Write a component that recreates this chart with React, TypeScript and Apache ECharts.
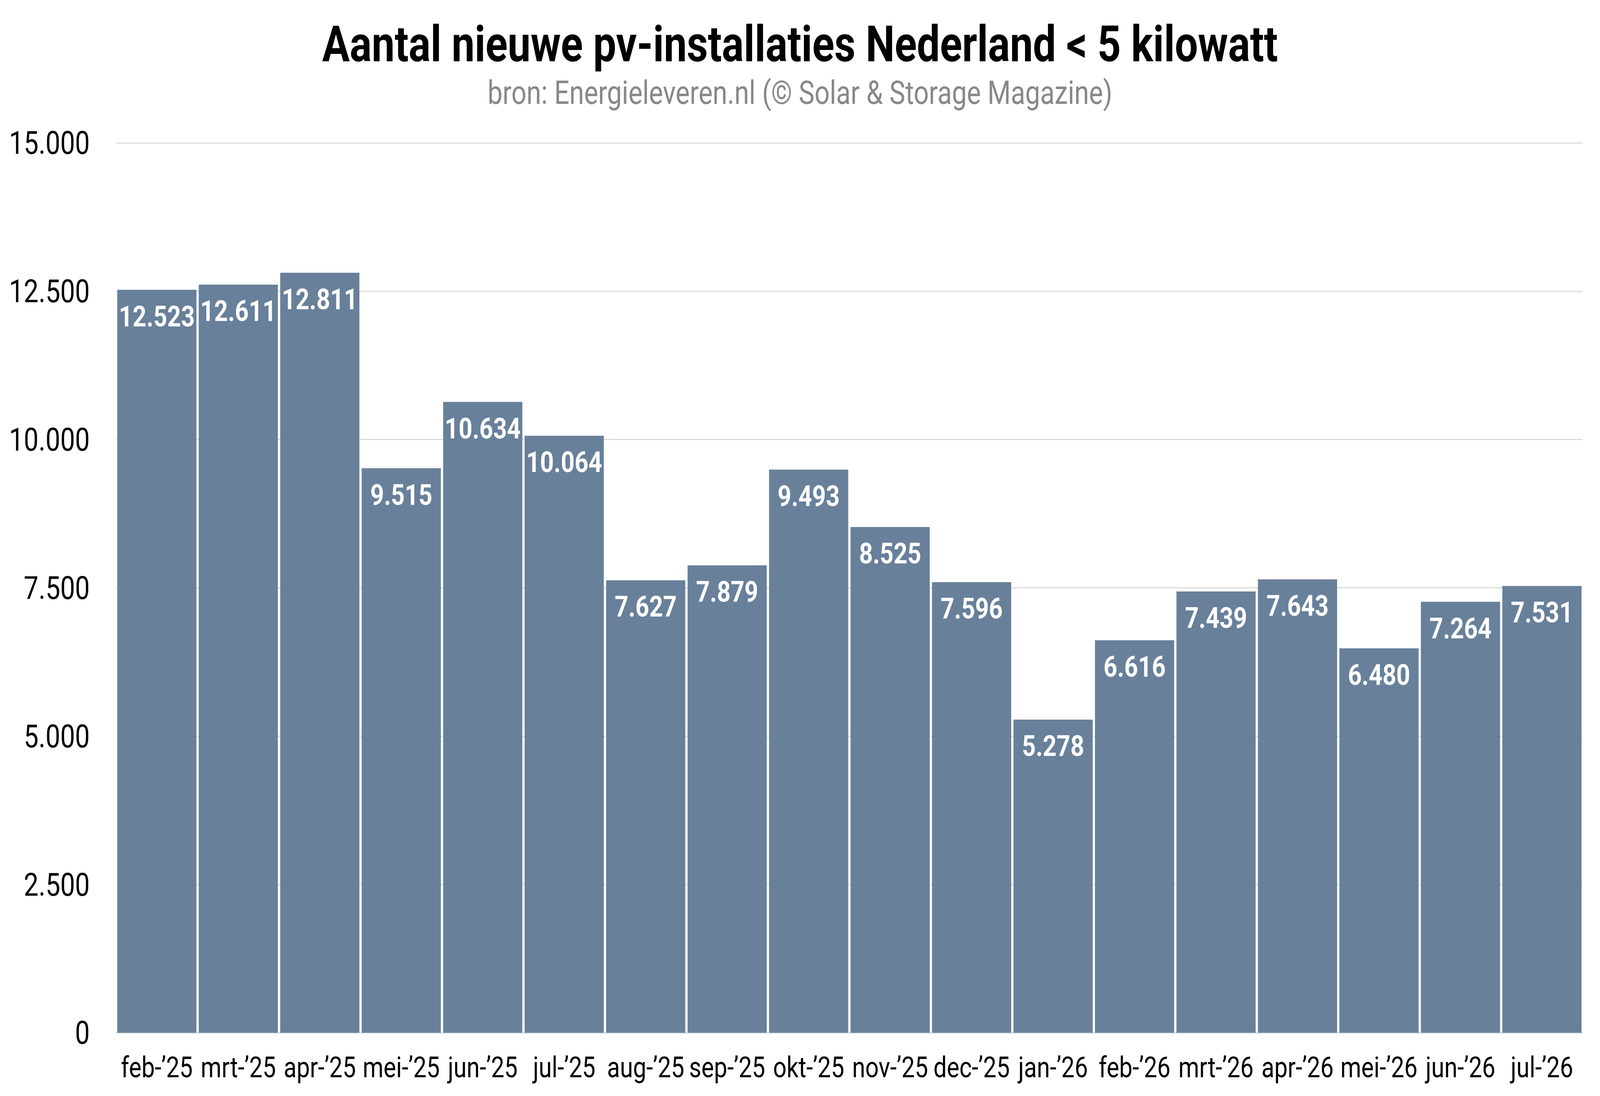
import React, { useEffect, useRef, useState } from "react";
import * as echarts from "echarts";

const TITLE = "Aantal nieuwe pv-installaties Nederland < 5 kilowatt";
const SUBTITLE = "bron: Energieleveren.nl (© Solar & Storage Magazine)";

const categories = [
  "feb-’25", "mrt-’25", "apr-’25", "mei-’25", "jun-’25", "jul-’25",
  "aug-’25", "sep-’25", "okt-’25", "nov-’25", "dec-’25", "jan-’26",
  "feb-’26", "mrt-’26", "apr-’26", "mei-’26", "jun-’26", "jul-’26",
];

const values = [
  12523, 12611, 12811, 9515, 10634, 10064,
  7627, 7879, 9493, 8525, 7596, 5278,
  6616, 7439, 7643, 6480, 7264, 7531,
];

const yMin = 0;
const yMax = 15000;
const yInterval = 2500;

const W = 4989;
const H = 2807;

const fmt = (v: number) =>
  String(Math.round(v)).replace(/\B(?=(\d{3})+(?!\d))/g, ".");

const FONT = "Roboto";

export default function App() {
  const ref = useRef<HTMLDivElement>(null);
  const [sx] = useState(() =>
    typeof window !== "undefined" ? Math.min(1, window.innerWidth / W) : 1
  );
  const [sy] = useState(() =>
    typeof window !== "undefined" ? Math.min(1, window.innerHeight / H) : 1
  );

  useEffect(() => {
    if (!ref.current) return;
    document.body.style.margin = "0";
    const chart = echarts.init(ref.current, undefined, {
      renderer: "svg",
      width: W,
      height: H,
    });
    chart.setOption({
      animation: false,
      backgroundColor: "#ffffff",
      title: [
        {
          text: TITLE,
          left: "center",
          top: 49,
          padding: 0,
          textStyle: {
            fontFamily: FONT,
            fontWeight: "bold",
            fontSize: 128,
            color: "#000000",
          },
        },
        {
          text: SUBTITLE,
          left: "center",
          top: 197,
          padding: 0,
          textStyle: {
            fontFamily: FONT,
            fontWeight: "normal",
            fontSize: 83,
            color: "#888888",
          },
        },
      ],
      grid: {
        left: 362,
        right: 54,
        top: 366,
        bottom: 162,
        containLabel: false,
      },
      xAxis: {
        type: "category",
        data: categories,
        axisTick: { show: false },
        axisLine: { show: true, lineStyle: { color: "#d3d8de", width: 3 } },
        axisLabel: {
          fontFamily: FONT,
          fontSize: 74,
          color: "#000000",
          margin: 52,
          interval: 0,
        },
      },
      yAxis: {
        type: "value",
        min: yMin,
        max: yMax,
        interval: yInterval,
        axisLine: { show: false },
        axisTick: { show: false },
        splitLine: { lineStyle: { color: "#dcdcdc", width: 3 } },
        axisLabel: {
          fontFamily: FONT,
          fontSize: 82,
          color: "#000000",
          margin: 82,
          formatter: (v: number) => fmt(v),
        },
      },
      series: [
        {
          type: "bar",
          data: values,
          barCategoryGap: "2.8%",
          itemStyle: { color: "#68809a" },
          label: {
            show: true,
            position: "insideTop",
            distance: 30,
            fontFamily: FONT,
            fontWeight: "bold",
            fontSize: 75,
            color: "#ffffff",
            formatter: (p: any) => fmt(p.value),
          },
        },
      ],
    });
    return () => chart.dispose();
  }, []);

  return (
    <div
      style={{
        position: "fixed",
        left: 0,
        top: 0,
        width: W * sx,
        height: H * sy,
        overflow: "hidden",
        background: "#ffffff",
      }}
    >
      <div
        ref={ref}
        style={{
          width: W,
          height: H,
          transform: `scale(${sx}, ${sy})`,
          transformOrigin: "0 0",
        }}
      />
    </div>
  );
}
